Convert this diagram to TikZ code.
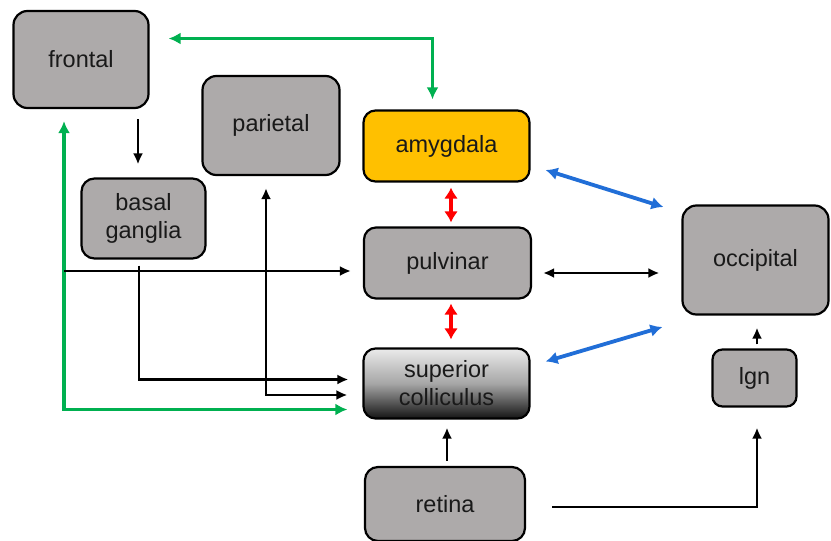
\documentclass[tikz,border=0pt]{standalone}
\usepackage{fontspec}
\setmainfont{Liberation Sans}
\usetikzlibrary{arrows.meta,calc}
\definecolor{boxgray}{RGB}{173,170,170}
\definecolor{amyg}{RGB}{255,192,0}
\definecolor{grn}{RGB}{0,176,80}
\definecolor{blu}{RGB}{33,110,215}
\definecolor{txt}{RGB}{25,25,25}
\begin{document}
\begin{tikzpicture}[x=1pt,y=-1pt,
  region/.style={draw=black, line width=2.2pt, fill=boxgray, rounded corners=14pt,
    inner sep=0pt, align=center, text=txt, font=\fontsize{23.5}{28}\selectfont},
  blkone/.style={line width=2.5pt, arrows={-Latex[length=11pt,width=10pt]}},
  blktwo/.style={line width=2.5pt, arrows={Latex[length=11pt,width=10pt]-Latex[length=11pt,width=10pt]}},
  grntwo/.style={draw=grn, line width=3.4pt, arrows={Latex[length=12pt,width=12pt]-Latex[length=12pt,width=12pt]}, fill=none},
  redtwo/.style={draw=red, line width=3.4pt, arrows={Latex[length=11pt,width=14pt]-Latex[length=11pt,width=14pt]}},
  blutwo/.style={draw=blu, line width=3.8pt, arrows={Latex[length=12pt,width=13pt]-Latex[length=12pt,width=13pt]}}
]
\useasboundingbox (0,0) rectangle (831,541);

\node[region, minimum width=135pt, minimum height=97pt] (frontal) at (81,59.5) {frontal};
\node[region, minimum width=137pt, minimum height=99pt] (parietal) at (271,125.5) {parietal};
\node[region, fill=amyg, rounded corners=12pt, minimum width=166pt, minimum height=71pt] (amygdala) at (446.5,146) {amygdala};
\node[region, rounded corners=13pt, minimum width=124pt, minimum height=80pt] (bg) at (143.5,218.5) {basal\\ganglia};
\node[region, rounded corners=12pt, minimum width=167pt, minimum height=71pt] (pulvinar) at (447.5,263) {pulvinar};
\node[region, rounded corners=12pt, top color=black!8, bottom color=black!92, middle color=black!35,
  minimum width=166pt, minimum height=70pt] (sc) at (446.5,383.5) {superior\\colliculus};
\node[region, minimum width=146pt, minimum height=109pt] (occipital) at (755.5,260) {occipital};
\node[region, rounded corners=10pt, minimum width=84pt, minimum height=57pt] (lgn) at (754.5,378) {lgn};
\node[region, rounded corners=13pt, minimum width=160pt, minimum height=74pt] (retina) at (445,504) {retina};

\coordinate (pstart) at (64,271);

% green
\draw[grntwo] ($(frontal.east)+(19,-21)$) -| ($(amygdala.north)+(-14,-10)$);
\draw[grntwo] ($(frontal.south)+(-17,12)$) |- ($(sc.west)+(-15,26)$);

% black
\draw[blkone] ($(frontal.south)+(57,10)$) -- ($(bg.north)+(-5.5,-13)$);
\draw[blkone] (pstart) -- ($(pulvinar.west)+(-12,8)$);
\draw[blkone] ($(bg.south)+(-4.5,6)$) |- ($(sc.west)+(-14,-4)$);
\draw[blktwo] ($(parietal.south)+(-5,12)$) |- ($(sc.west)+(-15,11.5)$);
\draw[blktwo] ($(pulvinar.east)+(11,10)$) -- ($(occipital.west)+(-22,13)$);
\draw[blkone] ($(lgn.north)+(2.5,-4)$) -- ($(occipital.south)+(1.5,12)$);
\draw[blkone] ($(retina.north)+(2,-5)$) -- ($(sc.south)+(0.5,8)$);
\draw[blkone] ($(retina.east)+(26,3)$) -| ($(lgn.south)+(2.5,20)$);

% red
\draw[redtwo] ($(amygdala.south)+(4.5,5)$) -- ($(pulvinar.north)+(3.5,-4)$);
\draw[redtwo] ($(pulvinar.south)+(3.5,4)$) -- ($(sc.north)+(4.5,-8)$);

% blue
\draw[blutwo] ($(amygdala.east)+(15,24)$) -- ($(occipital.west)+(-18,-53)$);
\draw[blutwo] ($(sc.east)+(15,-22)$) -- ($(occipital.west)+(-19,67)$);
\end{tikzpicture}
\end{document}
